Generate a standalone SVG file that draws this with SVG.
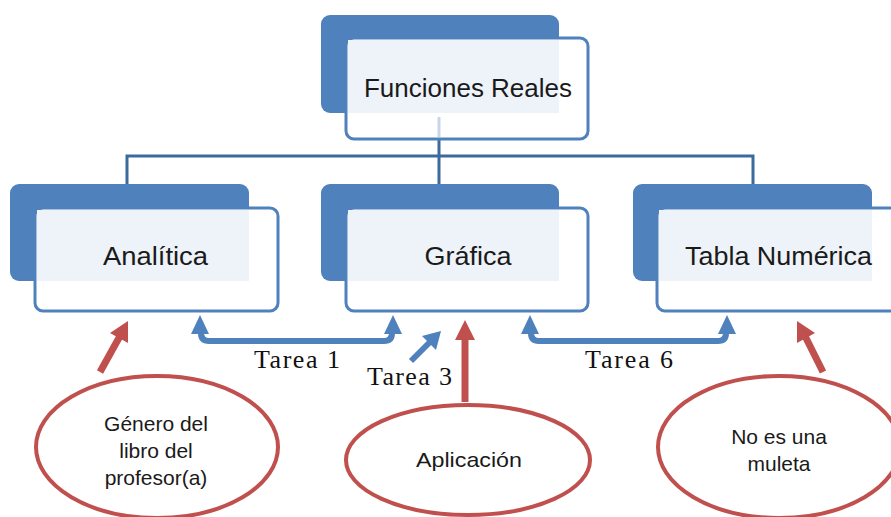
<svg xmlns="http://www.w3.org/2000/svg" width="891" height="517" viewBox="0 0 891 517">
<style>
.back{fill:#4f81bd}
.front{fill:#ffffff;stroke:#4f81bd;stroke-width:3}
.tint{fill:#eef2f9}
.lbl{font-family:"Liberation Sans",Arial,sans-serif;font-size:25px;fill:#1a1a1a;text-anchor:middle}
.oval{fill:#ffffff;stroke:#c0504d;stroke-width:4}
.olbl{font-family:"Liberation Sans",Arial,sans-serif;font-size:21px;fill:#1a1a1a;text-anchor:middle}
.tarea{font-family:"Liberation Serif","Times New Roman",serif;font-size:26px;fill:#111}
.tree{fill:none;stroke:#3d6a9e;stroke-width:3}
.barrow{fill:none;stroke:#4f81bd;stroke-width:6;stroke-linecap:butt}
.bhead{fill:#4f81bd}
.rhead{fill:#c0504d}
</style>
<rect width="891" height="517" fill="#ffffff"/>
<g id="connectors">
  <path class="tree" d="M439,140 V156 M127,185 V156 H753 V185 M439,156 V185"/>
  <path class="barrow" d="M201,330 V333 Q201,341 209,341 H384 Q392,341 392,333 V330"/>
  <polygon class="bhead" points="200,315 191,334 209,334"/>
  <polygon class="bhead" points="393,315 384,334 402,334"/>
  <path class="barrow" d="M531,330 V333 Q531,341 539,341 H718 Q726,341 726,333 V330"/>
  <polygon class="bhead" points="530,315 521,334 539,334"/>
  <polygon class="bhead" points="727,315 718,334 736,334"/>
  <line x1="411" y1="361" x2="430" y2="342" stroke="#4f81bd" stroke-width="6"/>
  <polygon class="bhead" points="441,331 422,336 436,350"/>
  <line x1="100" y1="372" x2="120" y2="336" stroke="#c0504d" stroke-width="7"/>
  <polygon class="rhead" points="128,321 110,333 128,343"/>
  <line x1="465" y1="402" x2="465" y2="338" stroke="#c0504d" stroke-width="7"/>
  <polygon class="rhead" points="465,320 455,340 475,340"/>
  <line x1="823" y1="372" x2="805" y2="336" stroke="#c0504d" stroke-width="7"/>
  <polygon class="rhead" points="797,321 797,343 815,333"/>
  <text class="tarea" x="254" y="368" textLength="86" lengthAdjust="spacing">Tarea 1</text>
  <text class="tarea" x="367" y="385" textLength="85" lengthAdjust="spacing">Tarea 3</text>
  <text class="tarea" x="585" y="368" textLength="88" lengthAdjust="spacing">Tarea 6</text>
</g>
<g id="funciones-reales">
  <rect class="back" x="321" y="15" width="238" height="98" rx="9"/>
  <rect class="front" x="346" y="38" width="242" height="101" rx="8"/>
  <rect class="tint" x="348" y="40" width="211" height="73"/>
  <line x1="439" y1="117" x2="439" y2="137" stroke="#c9d6ea" stroke-width="3"/>
  <text class="lbl" x="468" y="97" textLength="208" lengthAdjust="spacingAndGlyphs">Funciones Reales</text>
</g>
<g id="analitica">
  <rect class="back" x="10" y="184" width="239" height="97" rx="9"/>
  <rect class="front" x="35" y="208" width="243" height="103" rx="8"/>
  <rect class="tint" x="37" y="210" width="212" height="71"/>
  <text class="lbl" x="155.5" y="265" textLength="105" lengthAdjust="spacingAndGlyphs">Analítica</text>
</g>
<g id="grafica">
  <rect class="back" x="321" y="184" width="238" height="97" rx="9"/>
  <rect class="front" x="346" y="208" width="242" height="103" rx="8"/>
  <rect class="tint" x="348" y="210" width="211" height="71"/>
  <text class="lbl" x="468" y="265" textLength="87" lengthAdjust="spacingAndGlyphs">Gráfica</text>
</g>
<g id="tabla-numerica">
  <rect class="back" x="633" y="184" width="239" height="97" rx="9"/>
  <rect class="front" x="657" y="208" width="250" height="103" rx="8"/>
  <rect class="tint" x="659" y="210" width="213" height="71"/>
  <text class="lbl" x="778.5" y="265" textLength="187" lengthAdjust="spacingAndGlyphs">Tabla Numérica</text>
</g>
<g id="genero">
  <ellipse class="oval" cx="157" cy="447" rx="121" ry="71"/>
  <text class="olbl" x="156" y="431">Género del</text>
  <text class="olbl" x="156" y="458">libro del</text>
  <text class="olbl" x="156" y="485">profesor(a)</text>
</g>
<g id="aplicacion">
  <ellipse class="oval" cx="468" cy="460" rx="122" ry="55"/>
  <text class="olbl" x="469" y="467" textLength="106" lengthAdjust="spacingAndGlyphs">Aplicación</text>
</g>
<g id="muleta">
  <ellipse class="oval" cx="779" cy="447" rx="121" ry="71"/>
  <text class="olbl" x="779" y="444">No es una</text>
  <text class="olbl" x="779" y="471">muleta</text>
</g>
</svg>
